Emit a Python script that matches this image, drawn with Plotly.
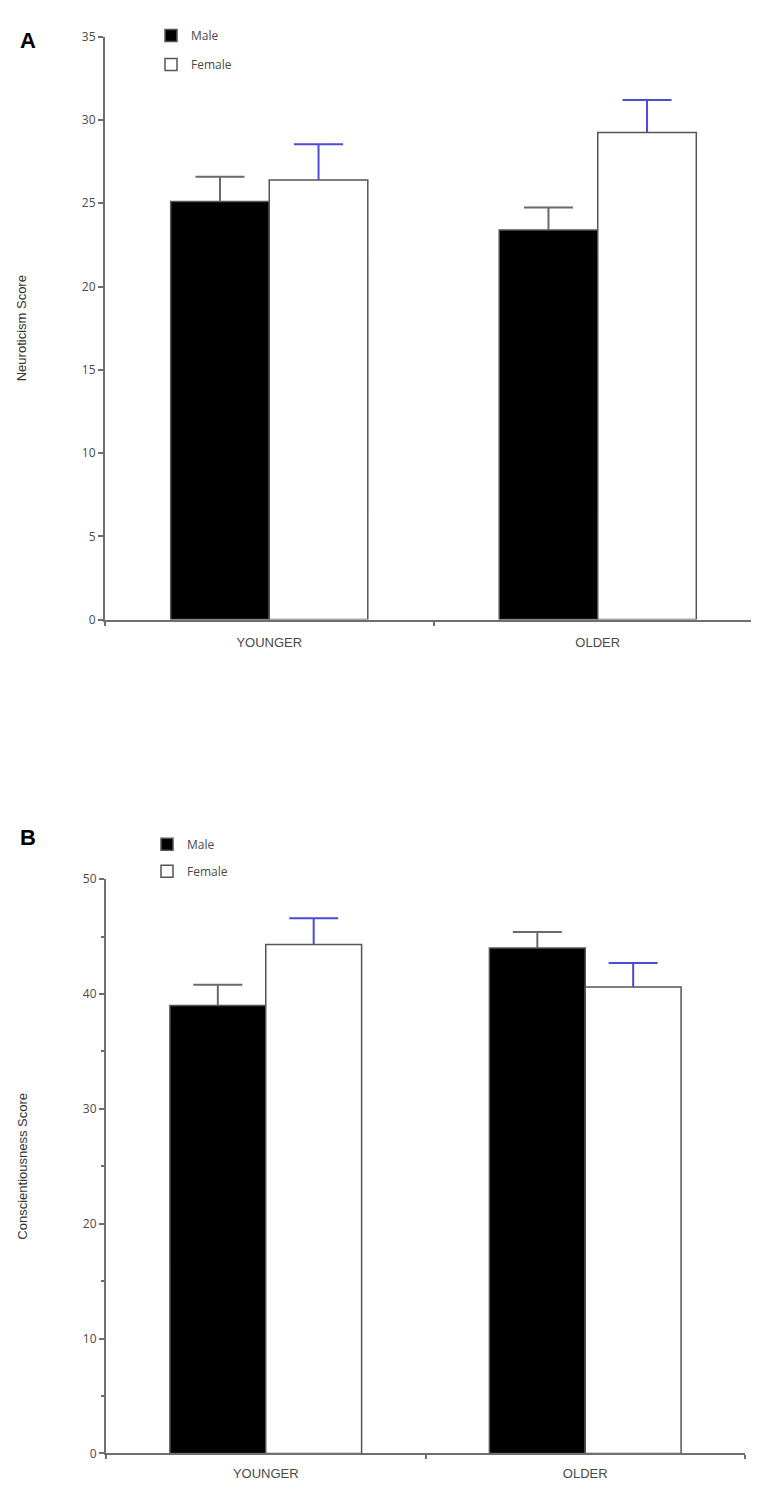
import plotly.graph_objects as go

# ---------------- data ----------------
categories = ["YOUNGER", "OLDER"]
series_names = ["Male", "Female"]

neuro_male = [25.1, 23.4]
neuro_male_err = [1.5, 1.35]
neuro_female = [26.4, 29.25]
neuro_female_err = [2.15, 1.95]

consc_male = [39.0, 44.0]
consc_male_err = [1.8, 1.4]
consc_female = [44.3, 40.6]
consc_female_err = [2.3, 2.1]

neuro_ticks = [0, 5, 10, 15, 20, 25, 30, 35]
consc_ticks = [0, 10, 20, 30, 40, 50]

# ---------------- style ----------------
W, H = 759, 1495
AXIS_GREY = "#6e6e6e"
TXT_GREY = "#4a4a4a"
BAR_EDGE = "#555555"
MALE_ERR = "#6a6a6a"
FEMALE_ERR = "#4b4bd6"

fig = go.Figure()


def add_series(vals, errs, name, fill, err_color, xa, ya, leg, grp):
    # bar with an upward error stem (no caps)
    fig.add_trace(go.Bar(
        x=categories, y=vals, name=name, xaxis=xa, yaxis=ya,
        offsetgroup=grp,
        marker=dict(color=fill, line=dict(color=BAR_EDGE, width=1.5)),
        error_y=dict(type="data", array=errs, arrayminus=[0] * len(vals),
                     symmetric=False, color=err_color, thickness=2, width=0),
        legend=leg, legendgroup=leg + grp, showlegend=True,
    ))
    # cap at the top end of the error bar only
    fig.add_trace(go.Scatter(
        x=categories, y=[v + e for v, e in zip(vals, errs)], xaxis=xa, yaxis=ya,
        offsetgroup=grp, mode="markers", hoverinfo="skip",
        marker=dict(symbol="line-ew", size=35, color=err_color,
                    line=dict(color=err_color, width=2)),
        showlegend=False, legend=leg, legendgroup=leg + grp,
    ))


add_series(neuro_male, neuro_male_err, series_names[0], "black", MALE_ERR, "x", "y", "legend", "m")
add_series(neuro_female, neuro_female_err, series_names[1], "white", FEMALE_ERR, "x", "y", "legend", "f")
add_series(consc_male, consc_male_err, series_names[0], "black", MALE_ERR, "x2", "y2", "legend2", "m")
add_series(consc_female, consc_female_err, series_names[1], "white", FEMALE_ERR, "x2", "y2", "legend2", "f")


def px_y(py):
    return (H - py) / H


common_x = dict(
    type="category", showline=True, linecolor=AXIS_GREY, linewidth=2,
    ticks="outside", tickson="boundaries", ticklen=4, tickwidth=1.5, tickcolor=AXIS_GREY,
    showgrid=False, zeroline=False,
    tickfont=dict(family="Liberation Sans Narrow, Arial Narrow, sans-serif", size=13, color=TXT_GREY),
)
common_y = dict(
    showline=True, linecolor=AXIS_GREY, linewidth=2,
    ticks="outside", ticklen=5, tickwidth=1.5, tickcolor=AXIS_GREY,
    showgrid=False, zeroline=False,
    tickfont=dict(family="Open Sans, sans-serif", size=12, color=TXT_GREY),
)

fig.update_layout(
    width=W, height=H,
    margin=dict(l=0, r=0, t=0, b=0),
    paper_bgcolor="white", plot_bgcolor="white",
    barmode="group", bargap=0.4, bargroupgap=0,
    scattermode="group", scattergap=0.4,
    xaxis=dict(common_x, domain=[97 / W, 754 / W], anchor="y", ticklabelstandoff=10),
    yaxis=dict(common_y, domain=[px_y(609.5), px_y(20)], range=[0, 35], anchor="x",
               tickvals=neuro_ticks,
               title=dict(text="Neuroticism Score", standoff=52,
                          font=dict(family="Liberation Sans, Arial, sans-serif", size=13, color="#333"))),
    xaxis2=dict(common_x, domain=[98 / W, 737 / W], anchor="y2", ticklabelstandoff=7),
    yaxis2=dict(common_y, domain=[px_y(1453), px_y(872)], range=[0, 50], anchor="x2",
                tickvals=consc_ticks,
                minor=dict(ticks="outside", ticklen=3, tickwidth=1.5, tickcolor=AXIS_GREY, dtick=5, showgrid=False),
                title=dict(text="Conscientiousness Score", standoff=52,
                           font=dict(family="Liberation Sans, Arial, sans-serif", size=13, color="#333"))),
    legend=dict(x=143 / W, xanchor="left", y=px_y(4), yanchor="top",
                bgcolor="rgba(0,0,0,0)", tracegroupgap=10, traceorder="grouped",
                font=dict(family="Open Sans, sans-serif", size=12, color=TXT_GREY)),
    legend2=dict(x=139 / W, xanchor="left", y=px_y(822), yanchor="top",
                 bgcolor="rgba(0,0,0,0)", tracegroupgap=8, traceorder="grouped",
                 font=dict(family="Open Sans, sans-serif", size=12, color=TXT_GREY)),
    annotations=[
        dict(text="<b>A</b>", x=10 / W, y=px_y(24), xref="paper", yref="paper",
             xanchor="left", yanchor="middle", showarrow=False,
             font=dict(family="Liberation Sans, Arial, sans-serif", size=22, color="black")),
        dict(text="<b>B</b>", x=10 / W, y=px_y(830), xref="paper", yref="paper",
             xanchor="left", yanchor="middle", showarrow=False,
             font=dict(family="Liberation Sans, Arial, sans-serif", size=22, color="black")),
    ],
)

fig.write_html("out.html")
